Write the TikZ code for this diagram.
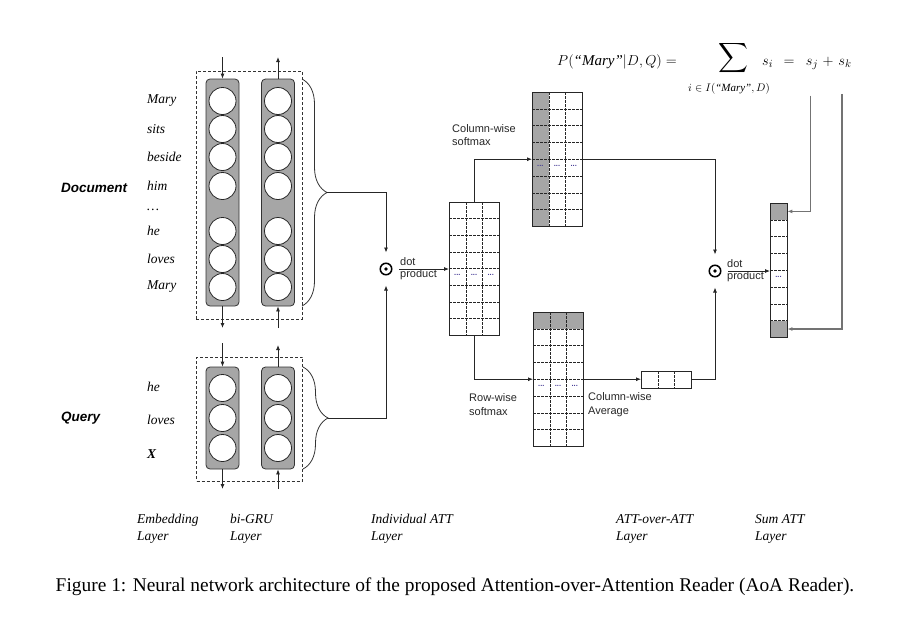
\documentclass[tikz,border=0pt]{standalone}
\usepackage{amsmath}
\usepackage{exscale}
\usepackage{fontspec}
\setmainfont{Liberation Serif}
\newfontfamily\arialf{Liberation Sans}
\usetikzlibrary{arrows.meta,calc,decorations.pathreplacing}
\definecolor{cg}{RGB}{166,166,166}
\definecolor{dotc}{RGB}{70,60,150}
\newcommand\mgrid[3]{%
  \pgfmathtruncatemacro\mgR{#2-1}%
  \pgfmathtruncatemacro\mgC{#3-1}%
  \ifnum\mgR>0 \foreach \i in {1,...,\mgR}{\draw[gline] ($(#1.north west)!\i/#2!(#1.south west)$) -- ($(#1.north east)!\i/#2!(#1.south east)$);}\fi
  \ifnum\mgC>0 \foreach \j in {1,...,\mgC}{\draw[gline] ($(#1.north west)!\j/#3!(#1.north east)$) -- ($(#1.south west)!\j/#3!(#1.south east)$);}\fi
  \draw[mborder] (#1.north west) rectangle (#1.south east);
}
\tikzset{
 arr/.style={draw=black!85, line width=0.8pt, -{Latex[length=5pt,width=4pt]}},
 garr/.style={draw=black!55, line width=1.2pt, -{Latex[length=5pt,width=4pt]}},
 gcol/.style={draw=black!80, fill=cg, rounded corners=4pt, line width=0.8pt, minimum width=33pt, inner sep=0pt},
 unitc/.style={circle, draw=black!85, fill=white, line width=0.8pt, minimum size=27pt, inner sep=0pt},
 dbox/.style={draw=black!80, dash pattern=on 3pt off 2pt, line width=0.7pt, inner sep=0pt},
 word/.style={anchor=west, font=\fontsize{13.5}{15}\selectfont\itshape, inner sep=0pt},
 sidelab/.style={anchor=west, font=\fontsize{13.5}{15}\selectfont\arialf\bfseries\itshape, inner sep=0pt},
 lab/.style={font=\fontsize{11}{13.5}\selectfont\arialf, inner sep=0pt, align=left, text=black!85},
 mat/.style={inner sep=0pt, anchor=north west},
 mborder/.style={draw=black!85, line width=0.9pt},
 gline/.style={draw=black!85, line width=0.6pt, dash pattern=on 2.5pt off 1.5pt},
 odot/.style={circle, draw=black, line width=1.5pt, minimum size=11.5pt, inner sep=0pt},
 laylab/.style={anchor=west, font=\fontsize{13.5}{17}\selectfont\itshape, align=left, inner sep=0pt},
 brc/.style={draw=black!80, line width=0.8pt, decorate, decoration={brace, amplitude=25pt}},
 elli/.style={font=\fontsize{7.5}{7.5}\selectfont\arialf\bfseries, text=dotc, inner sep=0pt},
 fml/.style={font=\fontsize{15}{18}\selectfont, inner sep=0pt},
}
\begin{document}
\begin{tikzpicture}[x=1pt,y=-1pt]
\useasboundingbox (0,0) rectangle (899,619);
% ---------- Document ----------
\node[dbox, minimum width=106pt, minimum height=248pt] (dbx) at (249,195) {};
\node[gcol, minimum height=227pt] (dcl) at (222.5,192.5) {};
\node[gcol, minimum height=227pt] (dcr) at (278,192.5) {};
\foreach \y [count=\k] in {101,129,157,186,231,259,287}{
  \node[unitc] (dl\k) at (222.5,\y) {};
  \node[unitc] (dr\k) at (278,\y) {};
}
\node[word] (w1) at (147,101) {Mary};
\node[word] (w2) at (147,129) {sits};
\node[word] (w3) at (147,157) {beside};
\node[word] (w4) at (147,186) {him};
\node[word] (w5) at (147,210) {\dots};
\node[word] (w6) at (147,231) {he};
\node[word] (w7) at (147,259) {loves};
\node[word] (w8) at (147,287) {Mary};
\node[sidelab] (doc) at (61,188) {Document};
\coordinate (dclin) at (222.5,57);
\coordinate (dclout) at (222.5,328);
\coordinate (dcrin) at (278,328);
\coordinate (dcrout) at (278,57);
\draw[arr] (dclin) -- (dcl.north);
\draw[arr] (dcl.south) -- (dclout);
\draw[arr] (dcrin) -- (dcr.south);
\draw[arr] (dcr.north) -- (dcrout);
\draw[brc] (302,79) -- (302,306);
\coordinate (dtip) at (327,192.5);
% ---------- Query ----------
\node[dbox, minimum width=106pt, minimum height=124pt] (qbx) at (249.5,419) {};
\node[gcol, minimum height=102pt] (qcl) at (222.5,418) {};
\node[gcol, minimum height=102pt] (qcr) at (278,418) {};
\foreach \y [count=\k] in {388,418,448}{
  \node[unitc] (ql\k) at (222.5,\y) {};
  \node[unitc] (qr\k) at (278,\y) {};
}
\node[word] (v1) at (147,387) {he};
\node[word] (v2) at (147,420) {loves};
\node[word, font=\fontsize{13.5}{15}\selectfont\bfseries\itshape] (v3) at (147,454) {X};
\node[sidelab] (qry) at (61,418) {Query};
\coordinate (qclin) at (222.5,343);
\coordinate (qclout) at (222.5,489);
\coordinate (qcrin) at (278,489);
\coordinate (qcrout) at (278,345);
\draw[arr] (qclin) -- (qcl.north);
\draw[arr] (qcl.south) -- (qclout);
\draw[arr] (qcrin) -- (qcr.south);
\draw[arr] (qcr.north) -- (qcrout);
\draw[brc] (303,367) -- (303,469);
\coordinate (qtip) at (328,418);
% ---------- Individual ATT ----------
\node[odot] (dp1) at (386,269) {};
\fill (dp1) circle (1.8pt);
\draw[arr, shorten >=10pt] (dtip) -| (dp1.north);
\draw[arr, shorten >=10pt] (qtip) -| (dp1.south);
\node[mat, minimum width=50pt, minimum height=133pt] (ind) at (449,202) {};
\mgrid{ind}{8}{3}
\foreach \x in {457.3,474,490.7}{\node[elli] at (\x,275) {...};}
\draw[arr, shorten <=6.5pt] (dp1.east) -- (dp1.east -| ind.west);
\node[lab, anchor=base west] (dot1) at (400,265.5) {dot};
\node[lab, anchor=base west] (prod1) at (400,277.5) {product};
% ---------- Column-wise softmax ----------
\node[mat, minimum width=50pt, minimum height=134pt] (cs) at (532,92) {};
\fill[cg] (cs.north west) rectangle ($(cs.south west)!1/3!(cs.south east)$);
\mgrid{cs}{8}{3}
\foreach \x in {540.3,557,573.7}{\node[elli] at (\x,166) {...};}
\node[lab, anchor=west] (cslab) at (452,135) {Column-wise\\softmax};
\draw[arr] (ind.north) |- (cs.west);
% ---------- Row-wise softmax ----------
\node[mat, minimum width=50pt, minimum height=134pt] (rs) at (533,312) {};
\fill[cg] (rs.north west) rectangle ($(rs.north east)!1/8!(rs.south east)$);
\mgrid{rs}{8}{3}
\foreach \x in {541.3,558,574.7}{\node[elli] at (\x,386) {...};}
\node[lab, anchor=west] (rslab) at (469,404.5) {Row-wise\\softmax};
\draw[arr] (ind.south) |- (rs.west);
% ---------- column-wise average vector ----------
\node[mat, minimum width=50pt, minimum height=17pt] (vec) at (641,371) {};
\mgrid{vec}{1}{3}
\node[lab, anchor=west] (cwlab) at (588,404.5) {Column-wise\\Average};
\draw[arr] (rs.east) -- (rs.east -| vec.west);
% ---------- second dot product ----------
\node[odot] (dp2) at (715,271) {};
\fill (dp2) circle (1.8pt);
\draw[arr, shorten >=10pt] (cs.east) -| (dp2.north);
\draw[arr, shorten >=10pt] (vec.east) -| (dp2.south);
\node[mat, minimum width=17pt, minimum height=134pt] (sv) at (770,203) {};
\fill[cg] (sv.north west) rectangle ($(sv.north east)!1/8!(sv.south east)$);
\fill[cg] ($(sv.north west)!7/8!(sv.south west)$) rectangle (sv.south east);
\mgrid{sv}{8}{1}
\node[elli] at (778.5,277) {...};
\draw[arr, shorten <=6.5pt] (dp2.east) -- (dp2.east -| sv.west);
\node[lab, anchor=base west] (dot2) at (727,267) {dot};
\node[lab, anchor=base west] (prod2) at (727,279.5) {product};
% ---------- formula ----------
\node[fml, anchor=base west] (pf) at (557,65) {$P($\textit{“Mary”}$|D,Q)=$};
\node[inner sep=0pt, font=\fontsize{21}{21}\selectfont] (sum) at (733,58) {$\displaystyle\sum$};
\node[inner sep=0pt, font=\fontsize{11}{12}\selectfont] (sub) at (729,89) {$i\in I($\textit{“Mary”}$,D)$};
\node[fml, anchor=base west] (si) at (762,65) {$s_i$};
\node[fml, anchor=base] (eq) at (789,65) {$=$};
\node[fml, anchor=base] (sj) at (812,65) {$s_j$};
\node[fml, anchor=base] (pl) at (828,65) {$+$};
\node[fml, anchor=base] (sk) at (845,65) {$s_k$};
\coordinate (svr1) at ($(sv.north east)!1/16!(sv.south east)$);
\coordinate (svr8) at ($(sv.north east)!15/16!(sv.south east)$);
\draw[garr] ([xshift=-1.5pt,yshift=-26pt]sj.south) |- (svr1);
\draw[garr] ([xshift=-3pt,yshift=-26pt]sk.south) |- (svr8);
% ---------- layer labels ----------
\node[laylab] (l1) at (137,528.5) {Embedding\\Layer};
\node[laylab] (l2) at (230,528.5) {bi-GRU\\Layer};
\node[laylab] (l3) at (371,528.5) {Individual ATT\\Layer};
\node[laylab] (l4) at (616,528.5) {ATT-over-ATT\\Layer};
\node[laylab] (l5) at (755,528.5) {Sum ATT\\Layer};
\node[inner sep=0pt, font=\fontsize{19.4}{22}\selectfont] (cap) at (455,587) {Figure 1: Neural network architecture of the proposed Attention-over-Attention Reader (AoA Reader).};
\end{tikzpicture}
\end{document}
